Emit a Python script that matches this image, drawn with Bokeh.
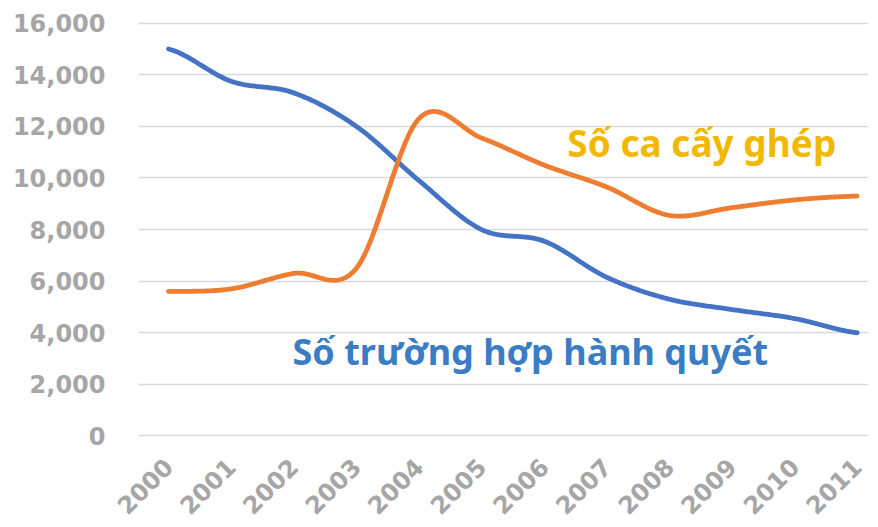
import math
import numpy as np
from bokeh.plotting import figure
from bokeh.models import FixedTicker, NumeralTickFormatter, Range1d, Label
from bokeh.embed import file_html
from bokeh.resources import INLINE

# ---- data ----
years = [2000, 2001, 2002, 2003, 2004, 2005, 2006, 2007, 2008, 2009, 2010, 2011]
year_labels = ["2000", "2001", "2002", "2003", "2004", "2005",
               "2006", "2007", "2008", "2009", "2010", "2011"]
executions = [15000, 13750, 13300, 12000, 9900, 8000, 7550, 6150, 5300, 4900, 4550, 4000]
transplants = [5600, 5700, 6300, 6500, 12300, 11550, 10500, 9650, 8550, 8850, 9150, 9300]
y_ticks = [0, 2000, 4000, 6000, 8000, 10000, 12000, 14000, 16000]

label_exec = "Số trường hợp hành quyết"
label_trans = "Số ca cấy ghép"

BLUE = "#4472C4"
ORANGE = "#ED7D31"


def smooth(xs, ys, n=40):
    """Cardinal (Catmull-Rom) smoothing like a spreadsheet's smoothed line."""
    xs = np.asarray(xs, float)
    ys = np.asarray(ys, float)
    m = np.empty_like(ys)
    m[1:-1] = (ys[2:] - ys[:-2]) / 2.0
    m[0] = (ys[1] - ys[0]) / 2.0
    m[-1] = (ys[-1] - ys[-2]) / 2.0
    out_x, out_y = [], []
    for i in range(len(xs) - 1):
        t = np.linspace(0, 1, n, endpoint=(i == len(xs) - 2))
        h00 = 2 * t**3 - 3 * t**2 + 1
        h10 = t**3 - 2 * t**2 + t
        h01 = -2 * t**3 + 3 * t**2
        h11 = t**3 - t**2
        out_x.extend(xs[i] + t * (xs[i + 1] - xs[i]))
        out_y.extend(h00 * ys[i] + h10 * m[i] + h01 * ys[i + 1] + h11 * m[i + 1])
    return out_x, out_y


p = figure(width=878, height=527,
           x_range=Range1d(1999.52, 2011.18), y_range=Range1d(-100, 16300),
           output_backend="svg", toolbar_location=None,
           min_border_left=138, min_border_right=10,
           min_border_top=15, min_border_bottom=89)
p.outline_line_color = None
p.background_fill_color = "white"
p.border_fill_color = "white"

p.xgrid.grid_line_color = None
p.ygrid.ticker = FixedTicker(ticks=y_ticks)
p.ygrid.grid_line_color = "#d9d9d9"
p.ygrid.grid_line_width = 1.5

for ax in (p.xaxis[0], p.yaxis[0]):
    ax.axis_line_color = None
    ax.major_tick_line_color = None
    ax.minor_tick_line_color = None
    ax.major_label_text_font = "DejaVu Sans"
    ax.major_label_text_font_style = "bold"
    ax.major_label_text_font_size = "24px"
    ax.major_label_text_color = "#a6a6a6"

p.yaxis.ticker = FixedTicker(ticks=y_ticks)
p.yaxis.formatter = NumeralTickFormatter(format="0,0")
p.yaxis.major_label_standoff = 27

p.xaxis.ticker = FixedTicker(ticks=years)
p.xaxis.major_label_overrides = {y: s for y, s in zip(years, year_labels)}
p.xaxis.major_label_orientation = math.pi / 4
p.xaxis.major_label_standoff = 18

ex_x, ex_y = smooth(years, executions)
tr_x, tr_y = smooth(years, transplants)
p.line(ex_x, ex_y, line_color=BLUE, line_width=4.8, line_cap="round", line_join="round")
p.line(tr_x, tr_y, line_color=ORANGE, line_width=4.8, line_cap="round", line_join="round")

p.add_layout(Label(x=2001.98, y=3290, text=label_exec, text_font="Noto Sans",
                   text_font_style="bold", text_font_size="36px",
                   text_color="#3A7DC4", text_baseline="alphabetic"))
p.add_layout(Label(x=2006.37, y=11370, text=label_trans, text_font="Noto Sans",
                   text_font_style="bold", text_font_size="37px",
                   text_color="#F2B800", text_baseline="alphabetic"))

open("out.html", "w").write(file_html(p, INLINE))
